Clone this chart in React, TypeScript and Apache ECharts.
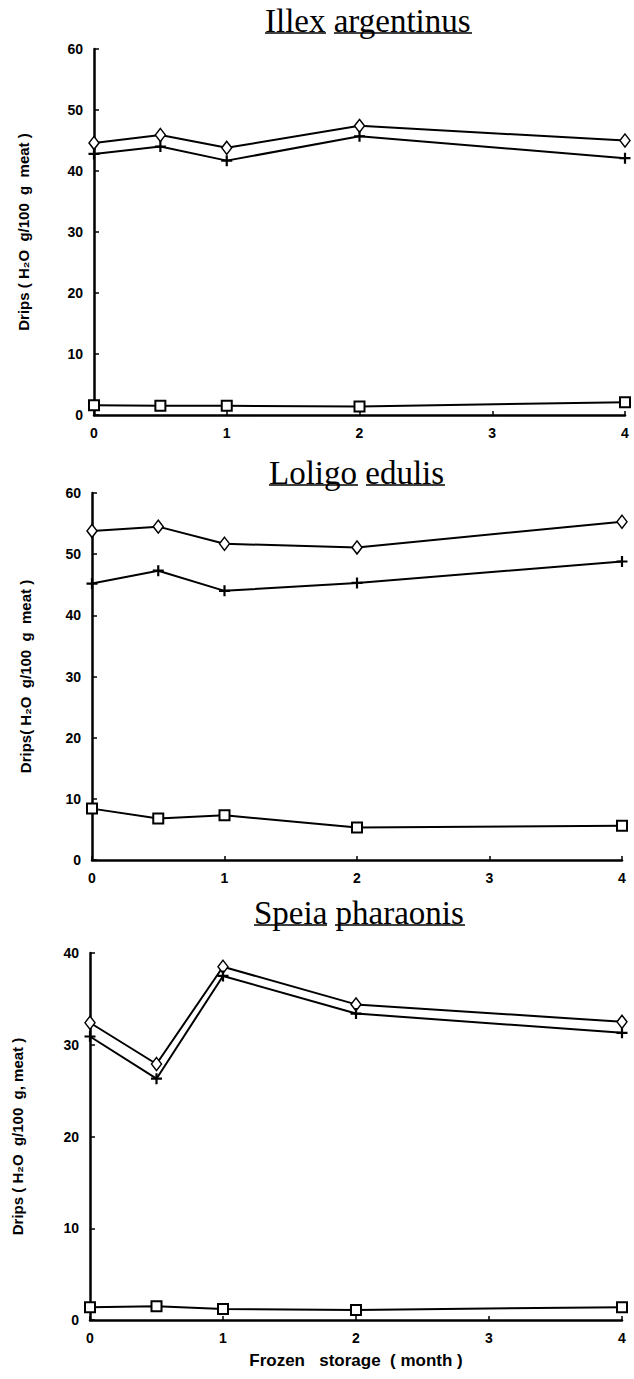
import React, { useEffect, useRef } from "react";
import * as echarts from "echarts";

const months = [0, 0.5, 1, 2, 4];

const titles = ["Illex argentinus", "Loligo edulis", "Speia pharaonis"];
const yNames = [
  "Drips ( H\u2082O  g/100  g  meat )",
  "Drips( H\u2082O  g/100  g  meat )",
  "Drips ( H\u2082O  g/100  g, meat )",
];
const xName = "Frozen   storage  ( month )";
const yMax = [60, 60, 40];

// Illex argentinus
const illexDiamond = [44.6, 45.9, 43.8, 47.4, 45.0];
const illexPlus = [42.8, 44.0, 41.7, 45.7, 42.1];
const illexSquare = [1.6, 1.5, 1.5, 1.4, 2.1];
// Loligo edulis
const loligoDiamond = [53.8, 54.5, 51.7, 51.1, 55.3];
const loligoPlus = [45.2, 47.3, 44.0, 45.3, 48.8];
const loligoSquare = [8.4, 6.8, 7.3, 5.3, 5.6];
// Speia pharaonis
const speiaDiamond = [32.4, 27.9, 38.5, 34.4, 32.5];
const speiaPlus = [30.9, 26.3, 37.5, 33.4, 31.3];
const speiaSquare = [1.4, 1.5, 1.2, 1.1, 1.4];

const panels = [
  { diamond: illexDiamond, plus: illexPlus, square: illexSquare },
  { diamond: loligoDiamond, plus: loligoPlus, square: loligoSquare },
  { diamond: speiaDiamond, plus: speiaPlus, square: speiaSquare },
];

const grids = [
  { left: 94, top: 49, width: 531, height: 366 },
  { left: 92, top: 493, width: 530, height: 367 },
  { left: 90, top: 953, width: 532, height: 367 },
];
const nameGaps = [63, 59, 65];

// title layout: [x, baseline y, underline spans]
const titleLayout = [
  { x: 265, y: 31, ul: [[265, 326], [334, 472]] },
  { x: 269, y: 483, ul: [[269, 358], [366, 445]] },
  { x: 254, y: 923, ul: [[254, 327], [335, 465]] },
];

const PLUS = "path://M4,0H6V4H10V6H6V10H4V6H0V4H4Z";
const labelFont = { fontFamily: "Liberation Sans", fontWeight: "bold" as const, fontSize: 14, color: "#000" };

export default function App() {
  const ref = useRef<HTMLDivElement>(null);
  useEffect(() => {
    if (!ref.current) return;
    const chart = echarts.init(ref.current, null, { renderer: "svg" });
    const series: any[] = [];
    panels.forEach((p, i) => {
      const mk = (vals: number[]) => vals.map((v, k) => [months[k], v]);
      series.push({
        type: "line",
        name: "diamond",
        xAxisIndex: i,
        yAxisIndex: i,
        data: mk(p.diamond),
        symbol: "diamond",
        symbolSize: [10, 13],
        lineStyle: { color: "#000", width: 2 },
        itemStyle: { color: "#fff", borderColor: "#000", borderWidth: 1.5 },
      });
      series.push({
        type: "line",
        name: "plus",
        xAxisIndex: i,
        yAxisIndex: i,
        data: mk(p.plus),
        symbol: PLUS,
        symbolSize: 11,
        lineStyle: { color: "#000", width: 2 },
        itemStyle: { color: "#000", borderWidth: 0 },
      });
      series.push({
        type: "line",
        name: "square",
        xAxisIndex: i,
        yAxisIndex: i,
        data: mk(p.square),
        symbol: "rect",
        symbolSize: 10,
        lineStyle: { color: "#000", width: 2 },
        itemStyle: { color: "#fff", borderColor: "#000", borderWidth: 2 },
      });
    });

    const graphic: any[] = [];
    titleLayout.forEach((t, i) => {
      graphic.push({
        type: "text",
        left: t.x,
        top: t.y - 27,
        style: {
          text: titles[i],
          font: "33px 'Liberation Serif'",
          fill: "#000",
        },
      });
      t.ul.forEach(([a, b]) => {
        graphic.push({
          type: "line",
          shape: { x1: a, y1: t.y + 2, x2: b, y2: t.y + 2 },
          style: { stroke: "#000", lineWidth: 1.5 },
        });
      });
    });

    chart.setOption({
      animation: false,
      backgroundColor: "#fff",
      grid: grids,
      xAxis: grids.map((_, i) => ({
        type: "value",
        gridIndex: i,
        min: 0,
        max: 4,
        interval: 1,
        splitLine: { show: false },
        axisLine: { show: true, onZero: false, lineStyle: { color: "#000", width: 2.5 } },
        axisTick: { show: true, inside: true, length: 4, lineStyle: { color: "#000", width: 1.5 } },
        axisLabel: { ...labelFont, margin: 11 },
        name: i === 2 ? xName : "",
        nameLocation: "middle",
        nameGap: 32,
        nameTextStyle: { fontFamily: "Liberation Sans", fontWeight: "bold", fontSize: 17, color: "#000" },
      })),
      yAxis: grids.map((_, i) => ({
        type: "value",
        gridIndex: i,
        min: 0,
        max: yMax[i],
        interval: 10,
        splitLine: { show: false },
        axisLine: { show: true, onZero: false, lineStyle: { color: "#000", width: 2.5 } },
        axisTick: { show: true, inside: true, length: 5, lineStyle: { color: "#000", width: 1.5 } },
        axisLabel: { ...labelFont, margin: 11 },
        name: yNames[i],
        nameLocation: "middle",
        nameGap: nameGaps[i],
        nameTextStyle: { fontFamily: "Liberation Sans", fontWeight: "bold", fontSize: 15, color: "#000" },
      })),
      series,
      graphic,
    });
    return () => chart.dispose();
  }, []);
  return (
    <div
      ref={ref}
      style={{ position: "absolute", left: 0, top: 0, width: 634, height: 1379 }}
    />
  );
}
